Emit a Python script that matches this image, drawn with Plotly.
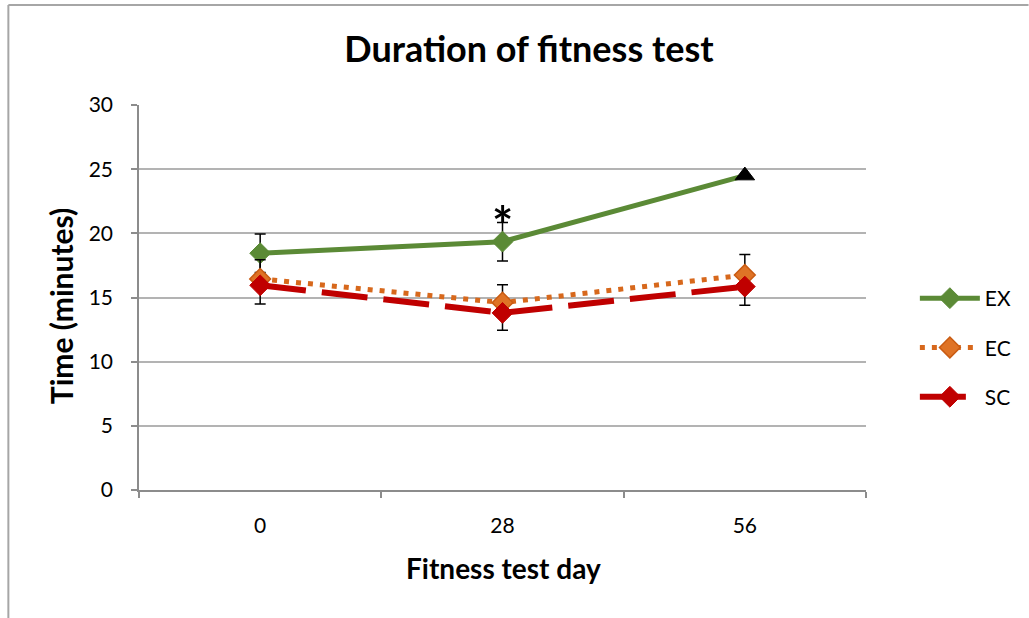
import math
import plotly.graph_objects as go

# --- data -------------------------------------------------------------
days = ["0", "28", "56"]
ex_time = [18.45, 19.35, 24.5]
ec_time = [16.45, 14.6, 16.75]
sc_time = [15.95, 13.8, 15.85]

ex_err = [1.5, 1.5, math.nan]
ec_err_up = [1.5, 1.4, 1.6]
sc_err_down = [1.45, 1.35, 1.45]

y_ticks = [0, 5, 10, 15, 20, 25, 30]
series_names = ["EX", "EC", "SC"]
starred_day = "28"

# --- geometry helpers ---------------------------------------------------
W, H = 1029, 618
L, R, T, B = 139, 868, 105, 490  # plot area edges in pixels


def px_x(px):
    return (px - L) / (R - L)


def px_y(py):
    return (B - py) / (B - T)


FONT = "Lato"
GREEN = "#5B8A36"
ORANGE = "#D7681C"
RED = "#C00000"
GRID = "#B3B3B3"
AXIS = "#8C8C8C"

fig = go.Figure()

# EX: diamonds, with the final point shown as a black triangle
fig.add_trace(go.Scatter(
    x=days, y=ex_time, name=series_names[0], mode="lines+markers",
    line=dict(color=GREEN, width=5),
    marker=dict(symbol=["diamond", "diamond", "triangle-up"],
                size=[16, 16, 17],
                color=[GREEN, GREEN, "#000000"], opacity=1,
                line=dict(color=[GREEN, GREEN, "#000000"], width=1)),
    error_y=dict(type="data", array=ex_err, arrayminus=ex_err, symmetric=False,
                 color="#000000", thickness=1.5, width=5.5),
    legendgroup="ex",
))

fig.add_trace(go.Scatter(
    x=days, y=ec_time, name=series_names[1], mode="lines+markers",
    line=dict(color=ORANGE, width=5, dash="5px,7px"),
    marker=dict(symbol="diamond", size=16, color="#DF7326", opacity=1,
                line=dict(color="#C95B12", width=1.5)),
    error_y=dict(type="data", array=ec_err_up, arrayminus=[0, 0, 0], symmetric=False,
                 color="#000000", thickness=1.5, width=5.5),
    legendgroup="ec",
))

fig.add_trace(go.Scatter(
    x=days, y=sc_time, name=series_names[2], mode="lines+markers",
    line=dict(color=RED, width=6, dash="46px,16px"),
    marker=dict(symbol="diamond", size=16, color=RED, opacity=1,
                line=dict(color=RED, width=1)),
    error_y=dict(type="data", array=[0, 0, 0], arrayminus=sc_err_down, symmetric=False,
                 color="#000000", thickness=1.5, width=5.5),
    legendgroup="sc",
))

# significance marker above day 28
star_i = days.index(starred_day)
fig.add_annotation(x=star_i, y=ex_time[star_i] + 1.4, text="<b>*</b>", showarrow=False,
                   font=dict(family=FONT, size=50, color="#000000"),
                   xref="x", yref="y", xanchor="center", yanchor="middle")

# axis titles
fig.add_annotation(x=px_x(505), y=px_y(568), xref="paper", yref="paper",
                   xanchor="center", yanchor="middle",
                   text="<b>Fitness test day</b>", showarrow=False,
                   font=dict(family=FONT, size=28, color="#000000"))
fig.add_annotation(x=px_x(61), y=px_y(306), xref="paper", yref="paper",
                   xanchor="center", yanchor="middle",
                   text="<b>Time (minutes)</b>", showarrow=False, textangle=-90,
                   font=dict(family=FONT, size=30, color="#000000"))

# chart-area border (left and top edges)
border = dict(color="#A6A6A6", width=2)
fig.add_shape(type="line", xref="paper", yref="paper",
              x0=px_x(8), y0=px_y(H + 2), x1=px_x(8), y1=px_y(5), line=border)
fig.add_shape(type="line", xref="paper", yref="paper",
              x0=px_x(8), y0=px_y(5), x1=px_x(W + 2), y1=px_y(5), line=border)

fig.update_layout(
    width=W, height=H,
    margin=dict(l=L, r=W - R, t=T, b=H - B),
    paper_bgcolor="#FFFFFF", plot_bgcolor="#FFFFFF",
    font=dict(family=FONT, size=21, color="#000000"),
    title=dict(text="<b>Duration of fitness test</b>", x=529 / W, xref="container",
               xanchor="center", y=1 - 49 / H, yref="container", yanchor="middle",
               font=dict(family=FONT, size=36, color="#000000")),
    showlegend=True,
    legend=dict(x=px_x(917), xanchor="left", y=px_y(278), yanchor="top",
                traceorder="grouped", tracegroupgap=19,
                font=dict(family=FONT, size=21, color="#000000"),
                bgcolor="rgba(0,0,0,0)", itemwidth=60),
)

fig.update_xaxes(
    type="category", range=[-0.5, 2.5], tickson="boundaries",
    showline=True, linecolor=AXIS, linewidth=1.5,
    ticks="outside", ticklen=6, tickcolor=AXIS, tickwidth=1.5,
    showgrid=False, zeroline=False,
    tickfont=dict(family=FONT, size=21, color="#000000"),
    ticklabelstandoff=16,
)
fig.update_yaxes(
    range=[0, 30], tickvals=y_ticks,
    showline=True, linecolor=AXIS, linewidth=1.5,
    ticks="outside", ticklen=6, tickcolor=AXIS, tickwidth=1.5,
    showgrid=True, gridcolor=GRID, gridwidth=1.5, zeroline=False,
    tickfont=dict(family=FONT, size=21, color="#000000"),
    ticklabelstandoff=14,
)

fig.write_html("out.html")
